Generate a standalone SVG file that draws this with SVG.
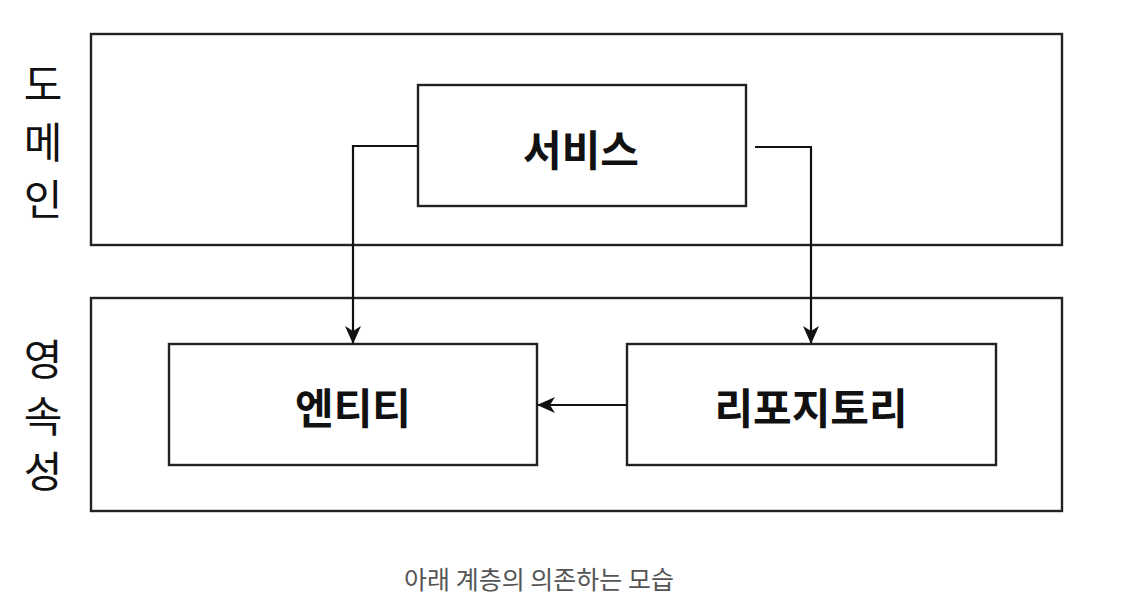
<svg xmlns="http://www.w3.org/2000/svg" width="1128" height="614" viewBox="0 0 1128 614">
<style>
.box{fill:#fff;stroke:#222;stroke-width:2.4}
.edge{fill:none;stroke:#111;stroke-width:2.2}
.side{font-family:"Noto Sans CJK KR","Noto Sans",sans-serif;font-size:42px;fill:#111;text-anchor:middle;dominant-baseline:central}
.lbl{font-family:"Noto Sans CJK KR","Noto Sans",sans-serif;font-size:42px;font-weight:bold;fill:#111;text-anchor:middle;dominant-baseline:central}
.cap{font-family:"Noto Sans CJK KR","Noto Sans",sans-serif;font-size:25px;fill:#555;text-anchor:middle;dominant-baseline:central}
</style>
<defs>
<marker id="arr" viewBox="0 0 18 16" refX="17" refY="8" markerWidth="18" markerHeight="16" markerUnits="userSpaceOnUse" orient="auto">
<path d="M0,0 L18,8 L0,16 L5,8 Z" fill="#111"/>
</marker>
</defs>
<rect width="1128" height="614" fill="#fff"/>
<g id="domain">
<rect class="box" x="91" y="34" width="971" height="211"/>
<text class="side" x="43" y="81">도</text>
<text class="side" x="43" y="139">메</text>
<text class="side" x="43" y="196">인</text>
</g>
<g id="persistence">
<rect class="box" x="91" y="298" width="971" height="213"/>
<text class="side" x="43" y="356">영</text>
<text class="side" x="43" y="413">속</text>
<text class="side" x="43" y="468">성</text>
</g>
<g id="service">
<rect class="box" x="418" y="85" width="328" height="121"/>
<text class="lbl" x="581" y="147">서비스</text>
</g>
<g id="entity">
<rect class="box" x="169" y="344" width="368" height="121"/>
<text class="lbl" x="353" y="405">엔티티</text>
</g>
<g id="repository">
<rect class="box" x="627" y="344" width="369" height="121"/>
<text class="lbl" x="811" y="405">리포지토리</text>
</g>
<g id="connectors">
<path class="edge" d="M418,146 H353 V343" marker-end="url(#arr)"/>
<path class="edge" d="M755,147 H811 V343" marker-end="url(#arr)"/>
<path class="edge" d="M627,405 H538" marker-end="url(#arr)"/>
</g>
<text class="cap" x="539" y="578">아래 계층의 의존하는 모습</text>
</svg>
